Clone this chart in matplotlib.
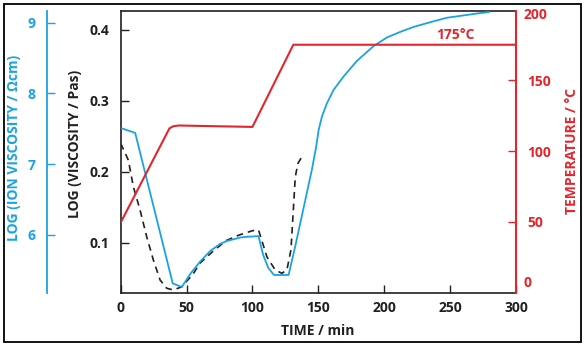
import matplotlib.pyplot as plt
from matplotlib.patches import Rectangle

# temperature programme (deg C)
temp_time = [0, 37, 40, 44, 100, 131, 300]
temp_vals = [49.5, 116, 117.5, 118, 117, 175, 175]

# ion viscosity, log(ohm cm)
ion_time = [0, 11, 39.5, 46.4, 53, 60.3, 68, 75.5, 80.5, 90.7, 95.7, 104.6, 108, 112, 116.3, 127.4,
            132.4, 138.8, 145.1, 148.4, 150.2, 152.7, 156.5, 161.6, 169.2, 179.3, 192, 202,
            212.2, 222.3, 237.5, 247.7, 262.9, 270.5, 279.3]
ion_vals = [7.51, 7.44, 5.31, 5.26, 5.45, 5.62, 5.77, 5.87, 5.91, 5.96, 5.97, 5.98, 5.72, 5.53, 5.43, 5.43,
            5.83, 6.38, 6.92, 7.25, 7.48, 7.67, 7.86, 8.05, 8.24, 8.46, 8.67, 8.79,
            8.87, 8.94, 9.02, 9.07, 9.11, 9.13, 9.15]

# viscosity, log(Pa s)
visc_time = [0, 5.8, 9.6, 14.7, 19.8, 24.8, 29.9, 35, 40, 46.4, 55, 60, 70, 80, 90, 100, 104.6,
             111, 117.3, 122.3, 126.1, 129.2, 130.7, 132.5, 134.5, 137.5]
visc_vals = [0.240, 0.2165, 0.179, 0.146, 0.108, 0.0756, 0.0475, 0.0358, 0.0334, 0.038, 0.056,
             0.071, 0.088, 0.103, 0.111, 0.117, 0.118, 0.080, 0.0615, 0.057, 0.0615, 0.0897,
             0.1366, 0.193, 0.212, 0.221]

blue = "#1aa3e2"
red = "#e3262d"
dark = "#231f20"

plt.rcParams["font.family"] = ["Open Sans", "DejaVu Sans"]
plt.rcParams["font.weight"] = "bold"
plt.rcParams["font.size"] = 10

fig = plt.figure(figsize=(5.86, 3.48), dpi=100)
fig.patches.append(Rectangle((4 / 586, 6 / 348), 577 / 586, 338 / 348, transform=fig.transFigure,
                             fill=False, edgecolor="black", linewidth=1.3))

ax = fig.add_axes([120.7 / 586, 1 - 292.7 / 348, (516 - 120.7) / 586, (292.7 - 11.3) / 348])
ax.plot(visc_time, visc_vals, color=dark, linestyle=(0, (4, 3)), linewidth=1.2)
ax.set_xlim(0, 300)
ax.set_ylim(0.0296, 0.4263)
ax.set_xticks(range(0, 301, 50))
ax.set_yticks([0.1, 0.2, 0.3, 0.4])
ax.tick_params(direction="in", length=6, width=1, colors=dark, labelsize=10)
ax.tick_params(axis="x", pad=6)
ax.tick_params(axis="y", pad=8)
for s in ["left", "bottom", "top"]:
    ax.spines[s].set_color(dark)
    ax.spines[s].set_linewidth(1.2)
ax.spines["right"].set_visible(False)

# ion viscosity axis, offset to the left
ax_ion = ax.twinx()
ax_ion.plot(ion_time, ion_vals, color=blue, linewidth=1.3)
ax_ion.set_ylim(5.179, 9.161)
ax_ion.set_yticks([6, 7, 8, 9])
ax_ion.yaxis.set_ticks_position("left")
ax_ion.yaxis.set_label_position("left")
ax_ion.spines["left"].set_position(("axes", -0.187))
ax_ion.spines["left"].set_color(blue)
ax_ion.spines["left"].set_linewidth(1.3)
for s in ["right", "top", "bottom"]:
    ax_ion.spines[s].set_visible(False)
ax_ion.tick_params(axis="y", direction="in", length=6, width=1, colors=blue, labelsize=10, pad=8)

# temperature axis
ax_t = ax.twinx()
ax_t.plot(temp_time, temp_vals, color=red, linewidth=1.5)
ax_t.set_ylim(0, 198.6)
ax_t.set_yticks([50, 100, 150])
for s in ["left", "top", "bottom"]:
    ax_t.spines[s].set_visible(False)
ax_t.spines["right"].set_color(red)
ax_t.spines["right"].set_linewidth(1.5)
ax_t.tick_params(axis="y", direction="in", length=6, width=1, colors=red, labelsize=10, pad=8)
ax_t.text(1.018, 7, "0", transform=ax_t.get_yaxis_transform(), color=red, fontsize=10,
          fontweight="bold", ha="left", va="center")
ax_t.text(1.018, 196, "200", transform=ax_t.get_yaxis_transform(), color=red, fontsize=10,
          fontweight="bold", ha="left", va="center")
ax_t.text(254, 177, "175\u00b0C", color=red, fontsize=10, fontweight="bold", ha="center", va="bottom")

fig.text(318 / 586, 1 - 331 / 348, "TIME / min", color=dark, fontsize=10, fontweight="bold",
         ha="center", va="center")
fig.text(75 / 586, 1 - 144 / 348, "LOG (VISCOSITY / Pas)", color=dark, fontsize=10,
         fontweight="bold", rotation=90, ha="center", va="center")
fig.text(14 / 586, 1 - 148 / 348, "LOG (ION VISCOSITY / \u03a9cm)", color=blue, fontsize=10,
         fontweight="bold", rotation=90, ha="center", va="center")
fig.text(571.7 / 586, 1 - 151 / 348, "TEMPERATURE / \u00b0C", color=red, fontsize=10,
         fontweight="bold", rotation=90, ha="center", va="center")

fig.savefig("out.png", dpi=100)
